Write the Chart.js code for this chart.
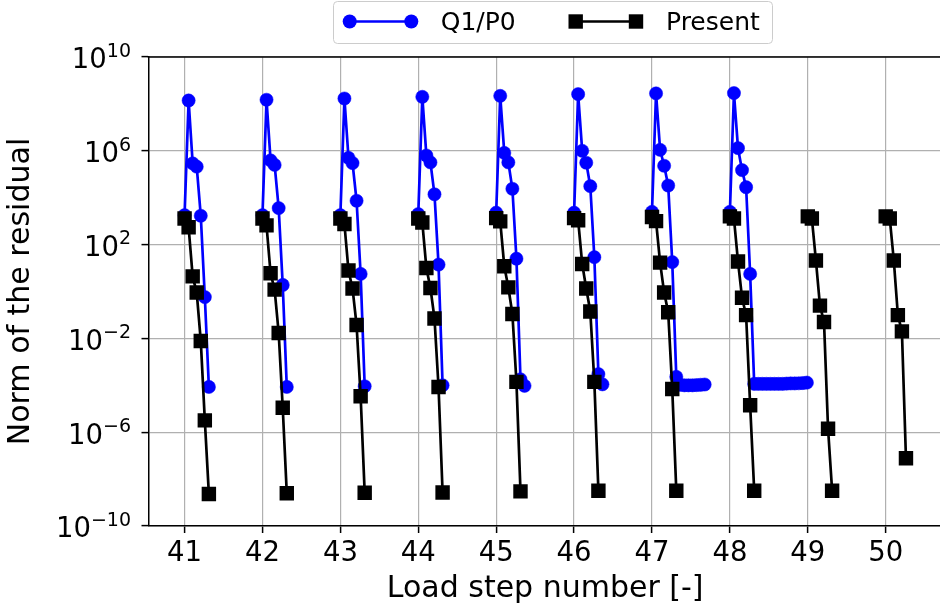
<!DOCTYPE html>
<html>
<head>
<meta charset="utf-8">
<title>Residual norm per load step</title>
<script src="https://cdn.jsdelivr.net/npm/chart.js@4.4.1/dist/chart.umd.min.js"></script>
<style>
    html, body { margin: 0; padding: 0; background: #fff; }
    #wrap { width: 940px; height: 614px; overflow: hidden; position: relative; }
    canvas { display: block; }
</style>
</head>
<body>
<div id="wrap"><canvas id="residualChart" width="952" height="614"></canvas></div>
<script>
// Load steps shown for each method
const Q1P0_STEPS = [41, 42, 43, 44, 45, 46, 47, 48];
const PRESENT_STEPS = [41, 42, 43, 44, 45, 46, 47, 48, 49, 50];

// spacing between Newton iterations inside one load step (x units)
const ITER_DX = 0.052;

// Q1/P0 residual norm per iteration, one row per load step
const q1p0Residuals = [
    [1.8e3, 1.4e8, 2.9e5, 2.1e5, 1.7e3, 0.58, 8.5e-5],                 // 41
    [1.8e3, 1.5e8, 3.9e5, 2.5e5, 3.6e3, 1.9, 8.5e-5],                  // 42
    [1.8e3, 1.7e8, 5.0e5, 3.0e5, 7.4e3, 5.6, 9.1e-5],                  // 43
    [2.0e3, 2.0e8, 6.3e5, 3.2e5, 1.4e4, 14, 1.0e-4],                   // 44
    [2.3e3, 2.2e8, 8.1e5, 3.2e5, 2.4e4, 25, 1.8e-4, 9.5e-5],           // 45
    [2.3e3, 2.6e8, 1.0e6, 3.1e5, 3.1e4, 29, 3.0e-4, 1.1e-4],           // 46
    [2.5e3, 2.8e8, 1.1e6, 2.3e5, 3.3e4, 18, 2.3e-4,
     1.05e-4, 1.0e-4, 1.0e-4, 1.0e-4, 1.02e-4, 1.05e-4, 1.08e-4],      // 47 (stalls)
    [2.5e3, 2.9e8, 1.3e6, 1.5e5, 2.8e4, 5.6,
     1.15e-4, 1.15e-4, 1.15e-4, 1.15e-4, 1.15e-4, 1.15e-4, 1.15e-4,
     1.15e-4, 1.18e-4, 1.2e-4, 1.2e-4, 1.22e-4, 1.25e-4, 1.3e-4]       // 48 (stalls)
];

// Present method residual norm per iteration, one row per load step
const presentResiduals = [
    [1.3e3, 5.5e2, 4.4, 0.9, 7.8e-3, 3.2e-6, 2.3e-9],       // 41
    [1.3e3, 6.6e2, 6.0, 1.2, 1.7e-2, 1.1e-5, 2.5e-9],       // 42
    [1.3e3, 7.6e2, 7.8, 1.35, 3.7e-2, 3.4e-5, 2.6e-9],      // 43
    [1.3e3, 8.7e2, 10, 1.4, 7.1e-2, 8.5e-5, 2.7e-9],        // 44
    [1.35e3, 9.8e2, 12, 1.5, 0.11, 1.4e-4, 3.0e-9],         // 45
    [1.35e3, 1.1e3, 15, 1.35, 0.14, 1.4e-4, 3.2e-9],        // 46
    [1.5e3, 1.0e3, 17, 0.9, 0.13, 6.9e-5, 3.2e-9],          // 47
    [1.6e3, 1.3e3, 19, 0.54, 9.8e-2, 1.4e-5, 3.2e-9],       // 48
    [1.6e3, 1.3e3, 21, 0.25, 5.0e-2, 1.4e-6, 3.2e-9],       // 49
    [1.6e3, 1.3e3, 21, 9.8e-2, 2.0e-2, 7.8e-8]              // 50
];

// Axis ticks
const X_TICKS = [41, 42, 43, 44, 45, 46, 47, 48, 49, 50];
const Y_TICKS = [1e-10, 1e-6, 1e-2, 1e2, 1e6, 1e10];

const FONT = 'DejaVu Sans';

// one point per iteration, null point between steps to break the line
function buildSeries(steps, residuals) {
    const pts = [];
    steps.forEach((step, s) => {
        residuals[s].forEach((r, i) => pts.push({ x: step + i * ITER_DX, y: r }));
        pts.push({ x: step + 0.5, y: null });
    });
    return pts;
}

// top spine, 10^n tick labels and the legend box
const extras = {
    id: 'extras',
    afterDraw(chart) {
        const { ctx, chartArea: area, scales: { y } } = chart;
        ctx.save();

        ctx.strokeStyle = '#000';
        ctx.lineWidth = 1.5;
        ctx.beginPath();
        ctx.moveTo(area.left - 0.75, area.top);
        ctx.lineTo(area.right, area.top);
        ctx.stroke();

        // y labels: base "10" with exponent as superscript
        ctx.fillStyle = '#000';
        ctx.textAlign = 'left';
        ctx.textBaseline = 'alphabetic';
        Y_TICKS.forEach(v => {
            const py = y.getPixelForValue(v);
            const exp = Math.round(Math.log10(v));
            const expTxt = exp < 0 ? '\u2212' + (-exp) : String(exp);
            ctx.font = `19px "${FONT}"`;
            const ew = ctx.measureText(expTxt).width;
            ctx.font = `27.5px "${FONT}"`;
            const bw = ctx.measureText('10').width;
            const right = 131;
            ctx.fillText('10', right - ew - bw, py + 11.3);
            ctx.font = `19px "${FONT}"`;
            ctx.fillText(expTxt, right - ew, py - 0.3);
        });

        // Legend
        ctx.fillStyle = 'rgba(255,255,255,0.8)';
        ctx.strokeStyle = '#cccccc';
        ctx.lineWidth = 1;
        ctx.beginPath();
        if (ctx.roundRect) ctx.roundRect(333.5, 1.5, 439, 42, 4);
        else ctx.rect(333.5, 1.5, 439, 42);
        ctx.fill();
        ctx.stroke();

        const ly = 21.5;
        ctx.lineWidth = 2.7;
        ctx.strokeStyle = '#0000ff';
        ctx.beginPath();
        ctx.moveTo(349.7, ly);
        ctx.lineTo(411.3, ly);
        ctx.stroke();
        ctx.fillStyle = '#0000ff';
        [349.7, 411.3].forEach(cx => {
            ctx.beginPath();
            ctx.arc(cx, ly, 7, 0, Math.PI * 2);
            ctx.fill();
        });

        ctx.strokeStyle = '#000';
        ctx.beginPath();
        ctx.moveTo(575.7, ly);
        ctx.lineTo(636, ly);
        ctx.stroke();
        ctx.fillStyle = '#000';
        [575.7, 636].forEach(cx => ctx.fillRect(cx - 7.2, ly - 7.2, 14.4, 14.4));

        ctx.font = `25px "${FONT}"`;
        ctx.fillText('Q1/P0', 440.7, 30);
        ctx.fillText('Present', 666, 30);

        ctx.restore();
    }
};

const gridOpts = {
    color: '#b0b0b0',
    lineWidth: 1.2,
    tickColor: '#000',
    tickLength: 7,
    tickWidth: 1.5
};

new Chart(document.getElementById('residualChart'), {
    type: 'line',
    data: {
        datasets: [
            {
                label: 'Q1/P0',
                data: buildSeries(Q1P0_STEPS, q1p0Residuals),
                borderColor: '#0000ff',
                backgroundColor: '#0000ff',
                borderWidth: 2.7,
                pointStyle: 'circle',
                pointRadius: 6.6,
                pointBorderWidth: 0.5,
                order: 2
            },
            {
                label: 'Present',
                data: buildSeries(PRESENT_STEPS, presentResiduals),
                borderColor: '#000000',
                backgroundColor: '#000000',
                borderWidth: 2.7,
                pointStyle: 'rect',
                pointRadius: 10.2,
                pointBorderWidth: 0,
                order: 1
            }
        ]
    },
    options: {
        responsive: false,
        animation: false,
        spanGaps: false,
        layout: { padding: { top: 57, right: 7, bottom: 0, left: 0 } },
        elements: { line: { tension: 0 } },
        plugins: {
            legend: { display: false },
            tooltip: { enabled: false }
        },
        scales: {
            x: {
                type: 'linear',
                min: 40.537,
                max: 50.72,
                afterBuildTicks: s => { s.ticks = X_TICKS.map(v => ({ value: v })); },
                afterFit: s => { s.height = 88; },
                grid: gridOpts,
                border: { color: '#000', width: 1.5 },
                ticks: {
                    color: '#000',
                    font: { family: FONT, size: 27.5 },
                    padding: 4,
                    maxRotation: 0,
                    autoSkip: false
                },
                title: {
                    display: true,
                    text: 'Load step number [-]',
                    color: '#000',
                    font: { family: FONT, size: 30 },
                    padding: { top: 0, bottom: 7 }
                }
            },
            y: {
                type: 'logarithmic',
                min: 1e-10,
                max: 1e10,
                afterBuildTicks: s => { s.ticks = Y_TICKS.map(v => ({ value: v })); },
                afterFit: s => { s.width = 148.5; },
                grid: gridOpts,
                border: { color: '#000', width: 1.5 },
                ticks: { display: false },
                title: {
                    display: true,
                    text: 'Norm of the residual',
                    color: '#000',
                    font: { family: FONT, size: 30 },
                    padding: { top: 3.5, bottom: 0 }
                }
            }
        }
    },
    plugins: [extras]
});
</script>
</body>
</html>
